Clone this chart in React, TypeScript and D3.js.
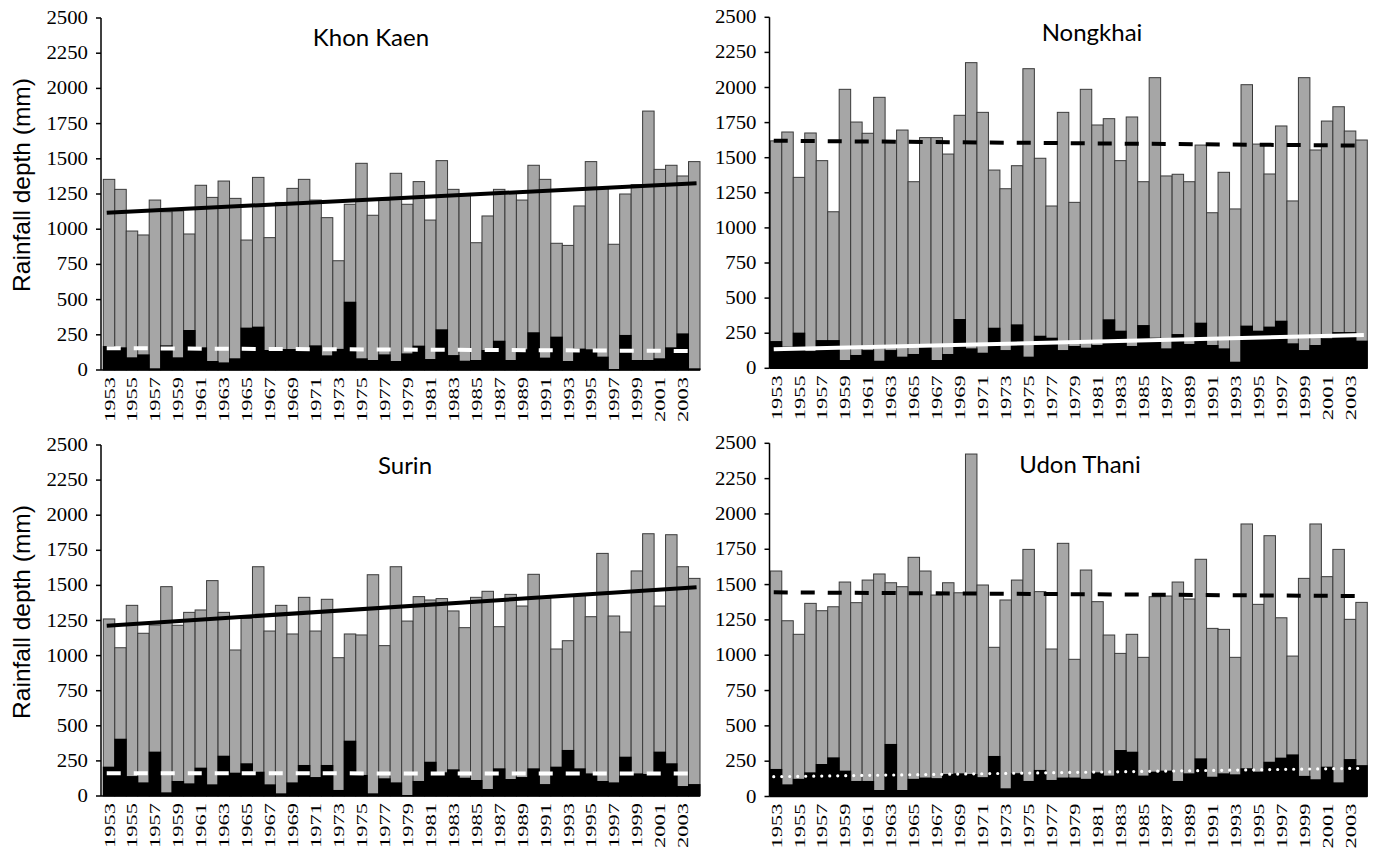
import React from "react";
import * as d3 from "d3";

const years = [
  1953, 1954, 1955, 1956, 1957, 1958, 1959, 1960, 1961, 1962, 1963, 1964, 1965,
  1966, 1967, 1968, 1969, 1970, 1971, 1972, 1973, 1974, 1975, 1976, 1977, 1978,
  1979, 1980, 1981, 1982, 1983, 1984, 1985, 1986, 1987, 1988, 1989, 1990, 1991,
  1992, 1993, 1994, 1995, 1996, 1997, 1998, 1999, 2000, 2001, 2002, 2003, 2004,
];

const yearLabels = [
  1953, 1955, 1957, 1959, 1961, 1963, 1965, 1967, 1969, 1971, 1973, 1975, 1977,
  1979, 1981, 1983, 1985, 1987, 1989, 1991, 1993, 1995, 1997, 1999, 2001, 2003,
];

const yTicks = [0, 250, 500, 750, 1000, 1250, 1500, 1750, 2000, 2250, 2500];

// Khon Kaen
const khonKaenTotal = [
  1354, 1283, 987, 959, 1207, 1124, 1130, 966, 1312, 1226, 1342, 1219, 923,
  1368, 940, 1190, 1290, 1354, 1207, 1082, 776, 1177, 1468, 1099, 1205, 1397,
  1177, 1338, 1065, 1487, 1283, 1245, 904, 1094, 1283, 1260, 1207, 1454, 1354,
  900, 885, 1165, 1480, 1290, 893, 1250, 1316, 1839, 1425, 1454, 1378, 1480,
];
const khonKaenDry = [
  170, 161, 90, 111, 12, 175, 90, 284, 161, 64, 54, 83, 301,
  308, 142, 149, 149, 151, 175, 104, 150, 485, 83, 71, 111, 64,
  118, 173, 78, 289, 106, 66, 71, 142, 208, 71, 147, 268, 88,
  237, 64, 152, 147, 95, 7, 249, 71, 71, 83, 161, 260, 12,
];
const khonKaenTotalTrend = [1117, 1326];
const khonKaenDryTrend = [155, 135];

// Nongkhai
const nongkhaiTotal = [
  1620, 1683, 1360, 1676, 1479, 1115, 1987, 1754, 1674, 1930, 1620, 1697, 1329,
  1643, 1643, 1526, 1802, 2177, 1823, 1412, 1279, 1443, 2134, 1496, 1156, 1823,
  1182, 1987, 1733, 1778, 1479, 1790, 1329, 2070, 1370, 1382, 1329, 1590, 1108,
  1396, 1135, 2020, 1597, 1384, 1726, 1192, 2070, 1555, 1761, 1863, 1690, 1626,
];
const nongkhaiDry = [
  194, 154, 254, 123, 201, 201, 59, 95, 130, 54, 130, 83, 102,
  154, 59, 102, 351, 142, 111, 289, 130, 313, 83, 232, 218, 130,
  159, 147, 166, 349, 268, 159, 308, 218, 142, 244, 173, 325, 166,
  142, 47, 304, 268, 297, 339, 178, 130, 166, 214, 258, 258, 197,
];
const nongkhaiTotalTrend = [1621, 1586];
const nongkhaiDryTrend = [135, 237];

// Surin
const surinTotal = [
  1261, 1056, 1358, 1159, 1218, 1491, 1216, 1308, 1325, 1534, 1308, 1040, 1265,
  1633, 1175, 1358, 1154, 1415, 1175, 1401, 985, 1154, 1147, 1576, 1071, 1633,
  1246, 1420, 1396, 1406, 1318, 1199, 1415, 1458, 1206, 1436, 1353, 1579, 1410,
  1047, 1106, 1430, 1277, 1728, 1282, 1168, 1603, 1868, 1353, 1861, 1633, 1550,
];
const surinDry = [
  209, 408, 142, 97, 316, 26, 107, 90, 202, 83, 287, 166, 233,
  173, 83, 19, 97, 221, 135, 221, 43, 394, 150, 19, 126, 97,
  7, 107, 244, 169, 190, 130, 114, 50, 197, 121, 135, 197, 85,
  209, 328, 197, 161, 107, 97, 280, 161, 157, 316, 233, 71, 85,
];
const surinTotalTrend = [1213, 1486];
const surinDryTrend = [162, 160];

// Udon Thani
const udonTotal = [
  1596, 1244, 1148, 1367, 1315, 1343, 1518, 1372, 1532, 1575, 1513, 1485, 1693,
  1596, 1426, 1513, 1442, 2424, 1497, 1056, 1391, 1532, 1749, 1450, 1044, 1792,
  971, 1603, 1379, 1143, 1013, 1148, 985, 1414, 1419, 1518, 1398, 1679, 1190,
  1183, 985, 1929, 1360, 1846, 1265, 994, 1544, 1929, 1556, 1749, 1254, 1374,
];
const udonDry = [
  195, 86, 125, 171, 230, 277, 183, 110, 110, 46, 372, 46, 125,
  134, 130, 159, 164, 159, 137, 287, 58, 165, 110, 188, 117, 134,
  134, 125, 171, 148, 329, 317, 148, 176, 183, 110, 164, 270, 140,
  164, 157, 200, 176, 246, 275, 298, 146, 122, 211, 100, 265, 222,
];
const udonTotalTrend = [1445, 1419];
const udonDryTrend = [140, 200];

type LineStyle = "solid" | "dashed" | "dotted";

interface PanelDef {
  title: string;
  total: number[];
  dry: number[];
  totalTrend: number[];
  dryTrend: number[];
  totalStyle: LineStyle;
  dryStyle: LineStyle;
  axisX: number;
  barL: number;
  barR: number;
  y0: number;
  yTop: number;
  titleX: number;
  titleY: number;
  yTitleY: number | null;
}

const panels: PanelDef[] = [
  {
    title: "Khon Kaen",
    total: khonKaenTotal,
    dry: khonKaenDry,
    totalTrend: khonKaenTotalTrend,
    dryTrend: khonKaenDryTrend,
    totalStyle: "solid",
    dryStyle: "dashed",
    axisX: 101,
    barL: 103.3,
    barR: 700,
    y0: 370,
    yTop: 18,
    titleX: 371,
    titleY: 46,
    yTitleY: 185,
  },
  {
    title: "Nongkhai",
    total: nongkhaiTotal,
    dry: nongkhaiDry,
    totalTrend: nongkhaiTotalTrend,
    dryTrend: nongkhaiDryTrend,
    totalStyle: "dashed",
    dryStyle: "solid",
    axisX: 769.5,
    barL: 770.3,
    barR: 1367.3,
    y0: 368.3,
    yTop: 17.3,
    titleX: 1092,
    titleY: 41,
    yTitleY: null,
  },
  {
    title: "Surin",
    total: surinTotal,
    dry: surinDry,
    totalTrend: surinTotalTrend,
    dryTrend: surinDryTrend,
    totalStyle: "solid",
    dryStyle: "dashed",
    axisX: 101,
    barL: 103.3,
    barR: 700,
    y0: 796,
    yTop: 445,
    titleX: 405,
    titleY: 474,
    yTitleY: 612,
  },
  {
    title: "Udon Thani",
    total: udonTotal,
    dry: udonDry,
    totalTrend: udonTotalTrend,
    dryTrend: udonDryTrend,
    totalStyle: "dashed",
    dryStyle: "dotted",
    axisX: 769.5,
    barL: 770.3,
    barR: 1367.3,
    y0: 796.5,
    yTop: 443.3,
    titleX: 1080,
    titleY: 473,
    yTitleY: null,
  },
];

function lineProps(style: LineStyle, color: string) {
  if (style === "dashed")
    return { stroke: color, strokeWidth: 4, strokeDasharray: "14 13" };
  if (style === "dotted")
    return {
      stroke: color,
      strokeWidth: 3.2,
      strokeDasharray: "0 8",
      strokeLinecap: "round" as const,
    };
  return { stroke: color, strokeWidth: 4 };
}

function Panel({ p }: { p: PanelDef }) {
  const x = d3
    .scaleBand<number>()
    .domain(years)
    .range([p.barL, p.barR])
    .paddingInner(0)
    .paddingOuter(0);
  const y = d3.scaleLinear().domain([0, 2500]).range([p.y0, p.yTop]);
  const bw = x.bandwidth();
  const first = years[0];
  const last = years[years.length - 1];
  const lx1 = (x(first) as number) + bw * 0.3;
  const lx2 = (x(last) as number) + bw * 0.7;
  const line = d3
    .line<[number, number]>()
    .x((d) => d[0])
    .y((d) => d[1]);
  const totalPath = line([
    [lx1, y(p.totalTrend[0])],
    [lx2, y(p.totalTrend[1])],
  ]) as string;
  const dryPath = line([
    [lx1, y(p.dryTrend[0])],
    [lx2, y(p.dryTrend[1])],
  ]) as string;

  return (
    <g>
      {/* gray total bars */}
      {years.map((yr, i) => (
        <rect
          key={"t" + yr}
          x={x(yr) as number}
          y={y(p.total[i])}
          width={bw}
          height={y(0) - y(p.total[i])}
          fill="#a6a6a6"
          stroke="#3a3a3a"
          strokeWidth={1}
        />
      ))}
      {/* black dry bars */}
      {years.map((yr, i) => (
        <rect
          key={"d" + yr}
          x={(x(yr) as number) - 0.5}
          y={y(p.dry[i])}
          width={bw + 1}
          height={y(0) - y(p.dry[i])}
          fill="#000"
        />
      ))}
      {/* trends */}
      <path d={totalPath} fill="none" {...lineProps(p.totalStyle, "#000")} />
      <path d={dryPath} fill="none" {...lineProps(p.dryStyle, "#fff")} />
      {/* axes */}
      <line
        x1={p.axisX}
        x2={p.axisX}
        y1={y(2500)}
        y2={y(0)}
        stroke="#000"
        strokeWidth={1.5}
      />
      <line
        x1={p.axisX}
        x2={p.barR}
        y1={y(0)}
        y2={y(0)}
        stroke="#000"
        strokeWidth={1.5}
      />
      {yTicks.map((t) => (
        <g key={"yt" + t}>
          <line
            x1={p.axisX - 5}
            x2={p.axisX}
            y1={y(t)}
            y2={y(t)}
            stroke="#000"
            strokeWidth={1.5}
          />
          <text
            x={p.axisX - 13}
            y={y(t)}
            textAnchor="end"
            dominantBaseline="central"
            fontFamily="'Liberation Serif', 'Times New Roman', serif"
            fontSize={18}
            textLength={String(t).length * 10.4}
            lengthAdjust="spacingAndGlyphs"
            fill="#000"
          >
            {t}
          </text>
        </g>
      ))}
      {yearLabels.map((yr) => {
        const cx = (x(yr) as number) + bw / 2;
        const ty = p.y0 + 7;
        return (
          <text
            key={"xl" + yr}
            transform={`translate(${cx},${ty}) rotate(-90)`}
            textAnchor="end"
            dominantBaseline="central"
            fontFamily="'Liberation Serif', 'Times New Roman', serif"
            fontSize={15.5}
            textLength={45}
            lengthAdjust="spacingAndGlyphs"
            fill="#000"
          >
            {yr}
          </text>
        );
      })}
      <text
        x={p.titleX}
        y={p.titleY}
        textAnchor="middle"
        fontFamily="Lato, 'Open Sans', sans-serif"
        fontSize={24}
        fill="#000"
      >
        {p.title}
      </text>
      {p.yTitleY !== null && (
        <text
          transform={`translate(30,${p.yTitleY}) rotate(-90)`}
          textAnchor="middle"
          fontFamily="'Liberation Sans', Arial, sans-serif"
          fontSize={24.5}
          fill="#000"
        >
          Rainfall depth (mm)
        </text>
      )}
    </g>
  );
}

export default function App() {
  return (
    <div style={{ position: "absolute", left: 0, top: 0 }}>
      <svg width={1375} height={848} style={{ display: "block", background: "#fff" }}>
        {panels.map((p) => (
          <Panel key={p.title} p={p} />
        ))}
      </svg>
    </div>
  );
}
